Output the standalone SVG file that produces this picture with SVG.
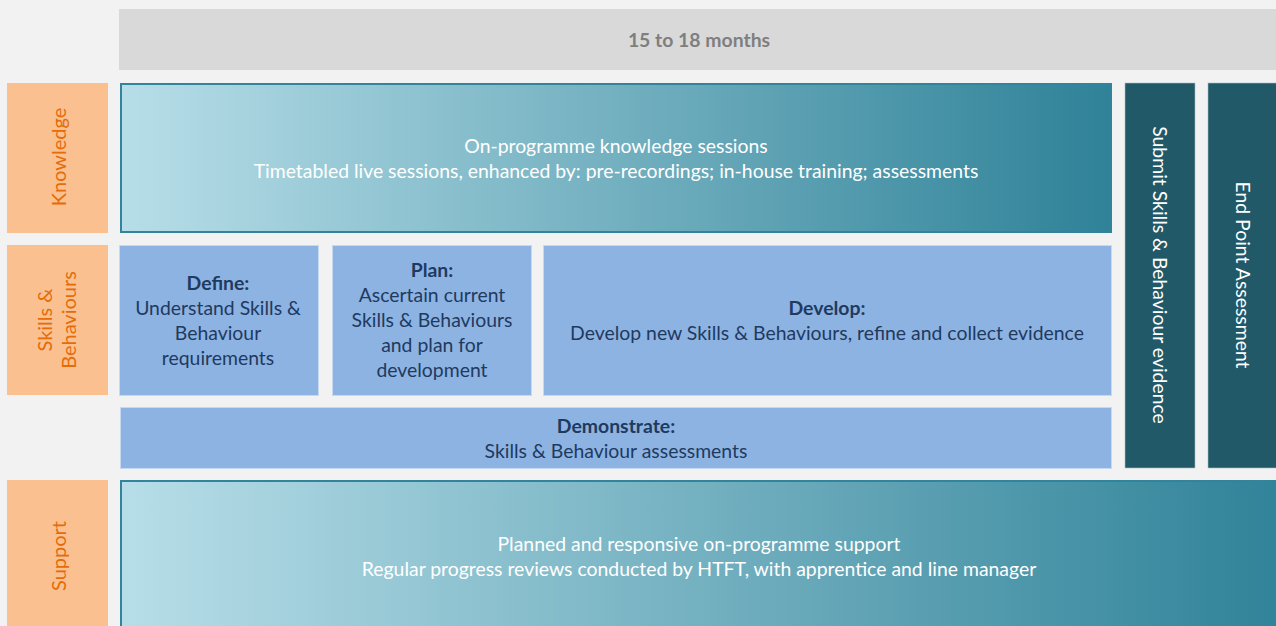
<svg xmlns="http://www.w3.org/2000/svg" width="1276" height="626" viewBox="0 0 1276 626">
<defs>
<linearGradient id="teal" x1="0" y1="0" x2="1" y2="0">
<stop offset="0" stop-color="#b7dee8"/>
<stop offset="1" stop-color="#2f8298"/>
</linearGradient>
<style>
text{font-family:Lato,"Open Sans","Liberation Sans",sans-serif;font-size:19.4px;text-anchor:middle}
.lab{fill:#fac090}
.labt{fill:#e46c0a;font-size:20px}
.grad{fill:url(#teal);stroke:#31849b;stroke-width:2}
.blue{fill:#8db3e2;stroke:#c6d9f1;stroke-width:1}
.bt{fill:#1f3a5f}
.b{font-weight:bold}
.dark{fill:#215968;stroke:#a6bfc6;stroke-width:0.6}
.wt{fill:#ffffff}
</style>
</defs>
<rect width="1276" height="626" fill="#f2f2f2"/>
<g id="timeline">
<rect x="119" y="9" width="1157" height="61" fill="#d9d9d9"/>
<text x="699" y="47" class="b" fill="#7f7f7f">15 to 18 months</text>
</g>
<g id="label-knowledge">
<rect class="lab" x="7" y="83" width="101" height="150"/>
<text class="labt" transform="translate(58 157) rotate(-90)" dominant-baseline="central">Knowledge</text>
</g>
<g id="label-skills">
<rect class="lab" x="7" y="245" width="101" height="150"/>
<text class="labt" transform="translate(44 320) rotate(-90)" dominant-baseline="central">Skills &amp;</text>
<text class="labt" transform="translate(68 320) rotate(-90)" dominant-baseline="central">Behaviours</text>
</g>
<g id="label-support">
<rect class="lab" x="7" y="480" width="101" height="150"/>
<text class="labt" transform="translate(58 556) rotate(-90)" dominant-baseline="central">Support</text>
</g>
<g id="knowledge">
<rect class="grad" x="121" y="84" width="990" height="148"/>
<text class="wt" x="616" y="153">On-programme knowledge sessions</text>
<text class="wt" x="616" y="178">Timetabled live sessions, enhanced by: pre-recordings; in-house training; assessments</text>
</g>
<g id="define">
<rect class="blue" x="119.5" y="245.5" width="199" height="150"/>
<text class="bt b" x="218" y="290">Define:</text>
<text class="bt" x="218" y="315">Understand Skills &amp;</text>
<text class="bt" x="218" y="340">Behaviour</text>
<text class="bt" x="218" y="365">requirements</text>
</g>
<g id="plan">
<rect class="blue" x="332.5" y="245.5" width="199" height="150"/>
<text class="bt b" x="432" y="277">Plan:</text>
<text class="bt" x="432" y="302">Ascertain current</text>
<text class="bt" x="432" y="327">Skills &amp; Behaviours</text>
<text class="bt" x="432" y="352">and plan for</text>
<text class="bt" x="432" y="377">development</text>
</g>
<g id="develop">
<rect class="blue" x="543.5" y="245.5" width="568" height="150"/>
<text class="bt b" x="827" y="315">Develop:</text>
<text class="bt" x="827" y="340">Develop new Skills &amp; Behaviours, refine and collect evidence</text>
</g>
<g id="demonstrate">
<rect class="blue" x="120.5" y="407.5" width="991" height="61"/>
<text class="bt b" x="616" y="433">Demonstrate:</text>
<text class="bt" x="616" y="458">Skills &amp; Behaviour assessments</text>
</g>
<g id="submit">
<rect class="dark" x="1125" y="83" width="70" height="385"/>
<text class="wt" transform="translate(1160 275) rotate(90)" dominant-baseline="central">Submit Skills &amp; Behaviour evidence</text>
</g>
<g id="epa">
<rect class="dark" x="1208" y="83" width="80" height="385"/>
<text class="wt" transform="translate(1243 275) rotate(90)" dominant-baseline="central">End Point Assessment</text>
</g>
<g id="support">
<rect class="grad" x="121" y="481" width="1170" height="160"/>
<text class="wt" x="699" y="551">Planned and responsive on-programme support</text>
<text class="wt" x="699" y="576">Regular progress reviews conducted by HTFT, with apprentice and line manager</text>
</g>
<g id="connectors"/>
</svg>
